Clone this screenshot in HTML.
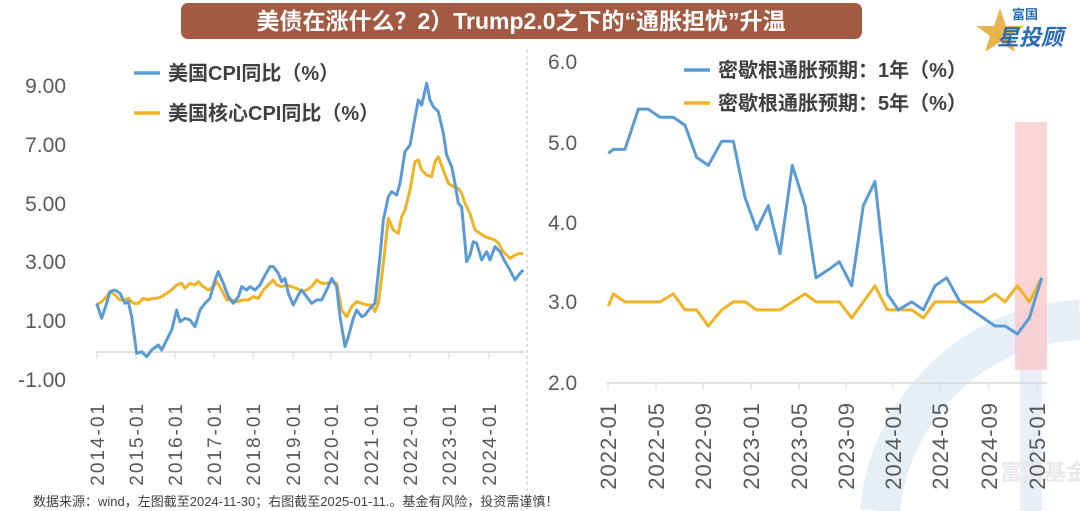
<!DOCTYPE html>
<html><head><meta charset="utf-8"><style>
html,body{margin:0;padding:0;background:#fff;width:1080px;height:511px;overflow:hidden}
svg{display:block;font-family:"Liberation Sans","Noto Sans CJK SC",sans-serif}
.ln{fill:none;vector-effect:non-scaling-stroke;stroke-width:3;stroke-linejoin:round}
.yl{font-size:21px;fill:#595959}
.xl{font-size:19px;fill:#595959;letter-spacing:2px}
.lg{font-size:20px;font-weight:bold;fill:#404040}
</style></head><body>
<svg width="1080" height="511" viewBox="0 0 1080 511">
<!-- watermark -->
<path d="M880 511 A210 210 0 0 1 1080 320" fill="none" stroke="#e6eef6" stroke-width="40"/>
<rect x="1020" y="315" width="22" height="196" fill="#e8eff7"/>
<text x="1000" y="480" font-size="22" fill="#e8e8e8" font-weight="bold">富国基金</text>
<!-- title -->
<rect x="181" y="3" width="681" height="36" rx="7" fill="#a25a43"/>
<text x="521" y="29" text-anchor="middle" font-size="23" font-weight="bold" fill="#fff">美债在涨什么？2）Trump2.0之下的“通胀担忧”升温</text>
<!-- logo -->
<polygon points="1000,8 1006,26 1024,26 1010,36 1015,52 1000,42 985,52 990,36 976,26 994,26" fill="#e8b44c"/>
<text x="1012" y="19" font-size="13" font-weight="bold" fill="#2a6bb5">富国</text>
<text x="997" y="45" font-size="22" font-weight="bold" fill="#2a6bb5" font-style="italic">星投顾</text>
<!-- divider -->
<line x1="527" y1="50" x2="527" y2="511" stroke="#bbb" stroke-dasharray="3,3"/>
<!-- left y labels -->
<g class="yl" text-anchor="end">
<text x="66" y="93">9.00</text><text x="66" y="152">7.00</text><text x="66" y="211">5.00</text>
<text x="66" y="269">3.00</text><text x="66" y="328">1.00</text><text x="66" y="387">-1.00</text>
</g>
<line x1="96" y1="352" x2="524" y2="352" stroke="#d9d9d9" stroke-width="1.5"/>
<g stroke="#d9d9d9">
<line x1="97" y1="352" x2="97" y2="359"/><line x1="136" y1="352" x2="136" y2="359"/><line x1="175" y1="352" x2="175" y2="359"/><line x1="214" y1="352" x2="214" y2="359"/><line x1="253" y1="352" x2="253" y2="359"/><line x1="293" y1="352" x2="293" y2="359"/><line x1="331" y1="352" x2="331" y2="359"/><line x1="371" y1="352" x2="371" y2="359"/><line x1="410" y1="352" x2="410" y2="359"/><line x1="449" y1="352" x2="449" y2="359"/><line x1="489" y1="352" x2="489" y2="359"/>
</g>
<g class="xl" text-anchor="end">
<text transform="translate(104,402) rotate(-90)">2014-01</text>
<text transform="translate(143,402) rotate(-90)">2015-01</text>
<text transform="translate(182,402) rotate(-90)">2016-01</text>
<text transform="translate(221,402) rotate(-90)">2017-01</text>
<text transform="translate(260,402) rotate(-90)">2018-01</text>
<text transform="translate(300,402) rotate(-90)">2019-01</text>
<text transform="translate(338,402) rotate(-90)">2020-01</text>
<text transform="translate(378,402) rotate(-90)">2021-01</text>
<text transform="translate(417,402) rotate(-90)">2022-01</text>
<text transform="translate(456,402) rotate(-90)">2023-01</text>
<text transform="translate(496,402) rotate(-90)">2024-01</text>
</g>
<g transform="translate(90,70) scale(0.33333)">
<polyline class="ln" stroke="#f0b323" points="20,705 35,695 50,680 60,665 75,675 90,690 105,690 115,685 130,700 145,700 160,685 175,690 185,685 200,685 215,680 230,670 245,660 260,645 275,640 285,655 300,640 315,645 325,635 340,650 355,660 370,650 380,635 395,660 410,690 425,690 440,695 460,690 475,690 490,680 505,685 520,660 535,645 550,630 560,645 575,650 590,645 605,650 620,655 635,665 650,660 665,650 680,630 695,640 710,640 725,635 740,640 755,720 770,740 785,710 800,695 815,700 830,705 845,705 855,725 865,700 880,580 895,445 910,480 925,490 935,440 945,420 960,360 975,275 985,270 995,300 1010,315 1025,320 1035,275 1045,260 1060,300 1075,340 1090,350 1105,355 1115,370 1125,400 1140,430 1155,480 1170,490 1185,500 1200,505 1215,510 1225,520 1240,545 1260,565 1275,555 1290,550 1300,552"/>
<polyline class="ln" stroke="#5b9bd5" points="20,700 35,745 50,700 60,665 75,660 90,670 105,700 115,695 125,740 140,850 155,845 170,860 185,840 205,825 215,840 230,810 245,780 260,720 270,755 285,745 300,750 315,770 330,720 345,700 360,685 375,630 385,605 400,640 415,680 430,700 445,680 455,650 470,660 480,650 495,660 510,645 520,625 540,590 550,590 565,610 575,635 585,625 595,670 610,705 625,675 635,660 650,680 665,700 680,690 695,690 710,660 725,625 740,650 750,740 765,830 775,800 790,745 800,720 815,740 825,735 840,715 855,700 870,560 880,450 895,380 905,365 920,375 930,340 945,245 960,225 970,170 985,90 995,105 1010,40 1020,90 1030,110 1045,125 1060,190 1070,255 1085,290 1095,340 1105,400 1115,410 1130,575 1140,555 1150,515 1160,520 1175,570 1190,545 1200,570 1215,530 1230,545 1245,575 1260,600 1275,630 1290,610 1300,600"/>
</g>
<line x1="134" y1="73" x2="160" y2="73" stroke="#5b9bd5" stroke-width="3.5"/>
<text class="lg" x="168" y="80">美国CPI同比（%）</text>
<line x1="134" y1="113" x2="160" y2="113" stroke="#f0b323" stroke-width="3.5"/>
<text class="lg" x="168" y="120">美国核心CPI同比（%）</text>
<!-- right chart -->
<rect x="1015" y="122" width="32" height="248" fill="#f9c5c8" opacity="0.75"/>
<g class="yl" text-anchor="start">
<text x="548" y="69">6.0</text><text x="548" y="150">5.0</text><text x="548" y="230">4.0</text>
<text x="548" y="309">3.0</text><text x="548" y="390">2.0</text>
</g>
<line x1="607" y1="383" x2="1047" y2="383" stroke="#d9d9d9" stroke-width="1.5"/>
<g stroke="#d9d9d9">
<line x1="608" y1="383" x2="608" y2="390"/><line x1="656" y1="383" x2="656" y2="390"/><line x1="703" y1="383" x2="703" y2="390"/><line x1="751" y1="383" x2="751" y2="390"/><line x1="799" y1="383" x2="799" y2="390"/><line x1="846" y1="383" x2="846" y2="390"/><line x1="893" y1="383" x2="893" y2="390"/><line x1="940" y1="383" x2="940" y2="390"/><line x1="989" y1="383" x2="989" y2="390"/><line x1="1037" y1="383" x2="1037" y2="390"/>
</g>
<g class="xl" text-anchor="end" style="font-size:22px;letter-spacing:1px">
<text transform="translate(616,402) rotate(-90)">2022-01</text>
<text transform="translate(664,402) rotate(-90)">2022-05</text>
<text transform="translate(711,402) rotate(-90)">2022-09</text>
<text transform="translate(759,402) rotate(-90)">2023-01</text>
<text transform="translate(807,402) rotate(-90)">2023-05</text>
<text transform="translate(854,402) rotate(-90)">2023-09</text>
<text transform="translate(901,402) rotate(-90)">2024-01</text>
<text transform="translate(948,402) rotate(-90)">2024-05</text>
<text transform="translate(997,402) rotate(-90)">2024-09</text>
<text transform="translate(1045,402) rotate(-90)">2025-01</text>
</g>
<g transform="translate(540,542.8) scale(0.33333,-80.3)">
<polyline class="ln" stroke="#f0b323" points="205,2.95 220,3.1 255,3.0 295,3.0 325,3.0 360,3.0 400,3.1 435,2.9 470,2.9 505,2.7 545,2.9 580,3.0 615,3.0 650,2.9 685,2.9 720,2.9 757,3.0 795,3.1 828,3.0 865,3.0 898,3.0 935,2.8 970,3.0 1005,3.2 1042,2.9 1075,2.9 1115,2.9 1150,2.8 1185,3.0 1220,3.0 1260,3.0 1295,3.0 1330,3.0 1365,3.1 1395,3.0 1432,3.2 1468,3.0 1505,3.3"/>
<polyline class="ln" stroke="#5b9bd5" points="205,4.85 220,4.9 255,4.9 295,5.4 325,5.4 360,5.3 400,5.3 435,5.2 470,4.8 505,4.7 545,5.0 580,5.0 615,4.3 650,3.9 685,4.2 720,3.6 757,4.7 795,4.2 828,3.3 865,3.4 898,3.5 935,3.2 970,4.2 1005,4.5 1042,3.1 1075,2.9 1115,3.0 1150,2.9 1185,3.2 1220,3.3 1260,3.0 1295,2.9 1330,2.8 1365,2.7 1395,2.7 1432,2.6 1468,2.8 1505,3.3"/>
</g>
<line x1="684" y1="70" x2="710" y2="70" stroke="#5b9bd5" stroke-width="3.5"/>
<text class="lg" x="718" y="77">密歇根通胀预期：1年（%）</text>
<line x1="684" y1="103" x2="710" y2="103" stroke="#f0b323" stroke-width="3.5"/>
<text class="lg" x="718" y="110">密歇根通胀预期：5年（%）</text>
<!-- footer -->
<text x="33" y="506" font-size="13" fill="#404040">数据来源：wind，左图截至2024-11-30；右图截至2025-01-11.。基金有风险，投资需谨慎！</text>
</svg>
</body></html>
